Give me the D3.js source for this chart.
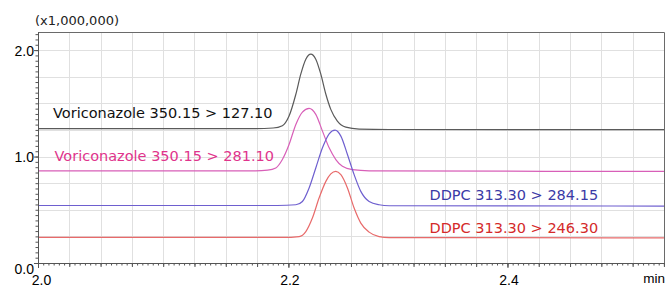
<!DOCTYPE html>
<html>
<head>
<meta charset="utf-8">
<script src="https://cdn.jsdelivr.net/npm/d3@7"></script>
<style>
  body { margin: 0; background: #fff; }
  svg { display: block; }
</style>
</head>
<body>
<div id="vis"></div>
<script>
// chromatogram, 4 MRM traces (values x1,000,000)

const traceNames = ["Voriconazole 350.15 > 127.10", "Voriconazole 350.15 > 281.10",
  "DDPC 313.30 > 284.15", "DDPC 313.30 > 246.30"]

// [time (min), intensity]
const vori127 = [[1.9714, 1.262], [2.17, 1.263], [2.186, 1.268], [2.1945, 1.290], [2.2006, 1.380],
  [2.2068, 1.585], [2.2113, 1.774], [2.2159, 1.915], [2.2205, 1.962], [2.2250, 1.915],
  [2.2296, 1.774], [2.2342, 1.585], [2.2387, 1.443], [2.2447, 1.333], [2.2524, 1.276],
  [2.2646, 1.258], [2.2920, 1.254], [2.5429, 1.252]]
const vori281 = [[1.9714, 0.866], [2.17, 0.866], [2.181, 0.872], [2.1885, 0.893], [2.1945, 0.972],
  [2.2006, 1.113], [2.2068, 1.302], [2.2128, 1.418], [2.2189, 1.453], [2.2250, 1.396],
  [2.2311, 1.239], [2.2372, 1.082], [2.2433, 0.972], [2.2493, 0.908], [2.2584, 0.877],
  [2.2737, 0.866], [2.5429, 0.860]]
const ddpc284 = [[1.9714, 0.540], [2.19, 0.540], [2.2068, 0.547], [2.2128, 0.578], [2.2189, 0.705],
  [2.2250, 0.893], [2.2311, 1.082], [2.2372, 1.214], [2.2426, 1.248], [2.2479, 1.192],
  [2.2539, 1.019], [2.2600, 0.830], [2.2661, 0.673], [2.2737, 0.578], [2.2828, 0.547],
  [2.2920, 0.538], [2.5429, 0.535]]
const ddpc246 = [[1.9714, 0.240], [2.195, 0.240], [2.2098, 0.248], [2.2159, 0.295], [2.2219, 0.422],
  [2.2280, 0.610], [2.2342, 0.767], [2.2387, 0.837], [2.2433, 0.861], [2.2479, 0.830],
  [2.2539, 0.705], [2.2600, 0.516], [2.2661, 0.375], [2.2737, 0.290], [2.2828, 0.248],
  [2.2920, 0.239], [2.5429, 0.236]]

// label anchor [time, intensity] of each trace name
const labelAt = [[1.9851, 1.362], [1.9865, 0.958], [2.3288, 0.592], [2.3288, 0.282]]

const xTickLabels = [1.9714, 2.2, 2.4]
const yTickLabels = [0, 1, 2]

const lineCols = ["#5a5a5a", "#d85fb8", "#6e5fcf", "#e86a6a"]
const textCols = ["#111111", "#e0348c", "#3a3aa6", "#d42a2a"]

const W = 666, H = 287
const plot = { left: 38, right: 664, top: 32, bottom: 263 }

const x = d3.scaleLinear().domain([1.9714, 2.5429]).range([plot.left, plot.right])
const y = d3.scaleLinear().domain([0, 2.17]).range([plot.bottom, plot.top])

const svg = d3.select("#vis").append("svg")
  .attr("width", W)
  .attr("height", H)

// grid
const xGrid = d3.range(0, 21).map(i => 1.9714 + i * 0.2 / 7)
const yGrid = d3.range(0.25, 2.17, 0.25)

svg.append("g")
  .selectAll("line")
  .data(xGrid.slice(1, -1))
  .enter().append("line")
  .attr("x1", d => Math.round(x(d)) + 0.5).attr("x2", d => Math.round(x(d)) + 0.5)
  .attr("y1", plot.top).attr("y2", plot.bottom)
  .attr("stroke", "#e0e0e0")

svg.append("g")
  .selectAll("line")
  .data(yGrid)
  .enter().append("line")
  .attr("x1", plot.left).attr("x2", plot.right)
  .attr("y1", d => Math.round(y(d)) + 0.5).attr("y2", d => Math.round(y(d)) + 0.5)
  .attr("stroke", "#e0e0e0")

// frame top/right
svg.append("path")
  .attr("d", `M${plot.left},${plot.top + 0.5}H${plot.right + 0.5}V${plot.bottom}`)
  .attr("fill", "none")
  .attr("stroke", "#6a6a6a")

// traces
const line = d3.line()
  .x(d => x(d[0]))
  .y(d => y(d[1]))
  .curve(d3.curveMonotoneX)

const traces = [vori127, vori281, ddpc284, ddpc246]
svg.append("g")
  .selectAll("path")
  .data(traces)
  .enter().append("path")
  .attr("d", line)
  .attr("fill", "none")
  .attr("stroke", (d, i) => lineCols[i])
  .attr("stroke-width", 1.2)

svg.append("g")
  .selectAll("text")
  .data(traceNames)
  .enter().append("text")
  .attr("x", (d, i) => x(labelAt[i][0]))
  .attr("y", (d, i) => y(labelAt[i][1]))
  .attr("fill", (d, i) => textCols[i])
  .style("font-family", "'DejaVu Sans', Verdana, sans-serif")
  .style("font-size", "14.5px")
  .text(d => d)

// axes
const minorX = d3.range(0, 121).map(i => 1.9714 + i * 0.2 / 42)
const minorY = d3.range(0, 2.16, 0.05)

function styleAxis(g) {
  g.select(".domain").attr("stroke", "#555")
  g.selectAll(".tick line").attr("stroke", "#555")
}

svg.append("g")
  .attr("transform", `translate(0,${plot.bottom})`)
  .call(d3.axisBottom(x).tickValues(minorX).tickSize(2.5).tickFormat("").tickSizeOuter(0))
  .call(styleAxis)

svg.append("g")
  .attr("transform", `translate(0,${plot.bottom})`)
  .call(d3.axisBottom(x).tickValues(xGrid).tickSize(4).tickFormat("").tickSizeOuter(0))
  .call(styleAxis)

const xLab = svg.append("g")
  .attr("transform", `translate(0,${plot.bottom})`)
  .call(d3.axisBottom(x).tickValues(xTickLabels).tickSize(5).tickFormat(d3.format(".1f")).tickSizeOuter(0))
  .call(styleAxis)
xLab.selectAll("text")
  .attr("dy", "1.0em")
  .attr("dx", d => d < 2 ? 3 : 1)
  .attr("fill", "#000")
  .style("font-family", "'Liberation Sans', Arial, sans-serif")
  .style("font-size", "14px")

svg.append("g")
  .attr("transform", `translate(${plot.left},0)`)
  .call(d3.axisLeft(y).tickValues(minorY).tickSize(2.5).tickFormat("").tickSizeOuter(0))
  .call(styleAxis)

const yLab = svg.append("g")
  .attr("transform", `translate(${plot.left},0)`)
  .call(d3.axisLeft(y).tickValues(yTickLabels).tickSize(4).tickFormat(d3.format(".1f")).tickSizeOuter(0))
  .call(styleAxis)
yLab.selectAll("text")
  .attr("x", -4)
  .attr("dy", d => d === 0 ? "0.72em" : "0.35em")
  .attr("fill", "#000")
  .style("font-family", "'Liberation Sans', Arial, sans-serif")
  .style("font-size", "14px")

svg.append("text")
  .attr("x", 35)
  .attr("y", 25)
  .attr("fill", "#222")
  .style("font-family", "'DejaVu Sans', Verdana, sans-serif")
  .style("font-size", "13px")
  .text("(x1,000,000)")

svg.append("text")
  .attr("x", 665)
  .attr("y", 283)
  .attr("text-anchor", "end")
  .attr("fill", "#000")
  .style("font-family", "'Liberation Sans', Arial, sans-serif")
  .style("font-size", "13.5px")
  .text("min")
</script>
</body>
</html>
